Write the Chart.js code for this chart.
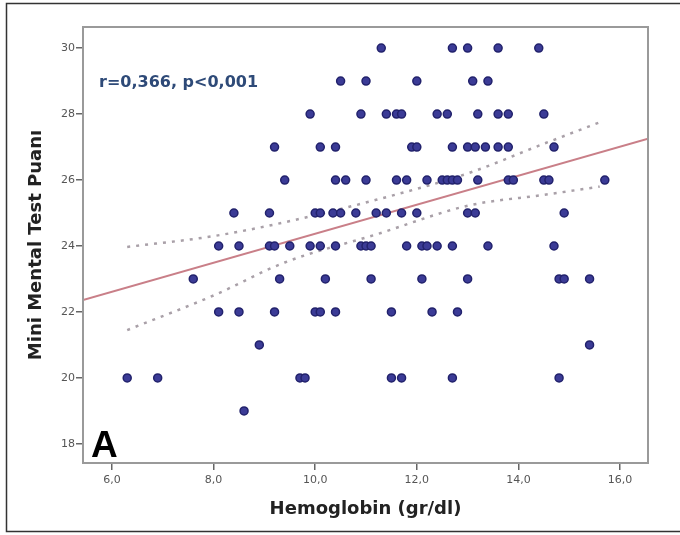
<!DOCTYPE html>
<html>
<head>
<meta charset="utf-8">
<script src="https://cdn.jsdelivr.net/npm/chart.js@4/dist/chart.umd.min.js"></script>
<style>
  html, body { margin: 0; padding: 0; background: #fff; }
  #wrap { width: 680px; height: 535px; position: relative; }
</style>
</head>
<body>
<div id="wrap"><canvas id="scatter"></canvas></div>
<script>
// hemoglobin (gr/dl) and matching MMSE score, grouped by score from 30 down to 19
const hemoglobin = [
  11.3, 12.7, 13.0, 13.6, 14.4,
  10.5, 11.0, 12.0, 13.1, 13.4,
  9.9, 10.9, 11.4, 11.6, 11.7, 12.4, 12.6, 13.2, 13.6, 13.8, 14.5,
  9.2, 10.1, 10.4, 11.9, 12.0, 12.7, 13.0, 13.15, 13.35, 13.6, 13.8, 14.7,
  9.4, 10.4, 10.6, 11.0, 11.6, 11.8, 12.2, 12.5, 12.6, 12.7, 12.8, 13.2, 13.8, 13.9, 14.5, 14.6, 15.7,
  8.4, 9.1, 10.0, 10.1, 10.35, 10.5, 10.8, 11.2, 11.4, 11.7, 12.0, 13.0, 13.15, 14.9,
  8.1, 8.5, 9.1, 9.2, 9.5, 9.9, 10.1, 10.4, 10.9, 11.0, 11.1, 11.8, 12.1, 12.2, 12.4, 12.7, 13.4, 14.7,
  7.6, 9.3, 10.2, 11.1, 12.1, 13.0, 14.8, 14.9, 15.4,
  8.1, 8.5, 9.2, 10.0, 10.1, 10.4, 11.5, 12.3, 12.8,
  8.9, 15.4,
  6.3, 6.9, 9.7, 9.8, 11.5, 11.7, 12.7, 14.8,
  8.6
];
const mmseScore = [
  30, 30, 30, 30, 30,
  29, 29, 29, 29, 29,
  28, 28, 28, 28, 28, 28, 28, 28, 28, 28, 28,
  27, 27, 27, 27, 27, 27, 27, 27, 27, 27, 27, 27,
  26, 26, 26, 26, 26, 26, 26, 26, 26, 26, 26, 26, 26, 26, 26, 26, 26,
  25, 25, 25, 25, 25, 25, 25, 25, 25, 25, 25, 25, 25, 25,
  24, 24, 24, 24, 24, 24, 24, 24, 24, 24, 24, 24, 24, 24, 24, 24, 24, 24,
  23, 23, 23, 23, 23, 23, 23, 23, 23,
  22, 22, 22, 22, 22, 22, 22, 22, 22,
  21, 21,
  20, 20, 20, 20, 20, 20, 20, 20,
  19
];

// linear fit and its 95% confidence band
const fitX = [5.43, 16.55];
const fitY = [22.36, 27.25];
const bandX = [6.3, 8.0, 9.4, 11.2, 13.0, 14.5, 15.6];
const bandUpper = [23.97, 24.3, 24.72, 25.4, 26.2, 27.1, 27.75];
const bandLower = [21.45, 22.5, 23.5, 24.35, 25.22, 25.55, 25.8];

const xTicks = [6, 8, 10, 12, 14, 16];
const yTicks = [18, 20, 22, 24, 26, 28, 30];
const xRange = [5.43, 16.55];
const yRange = [17.42, 30.64];

const statLabel = 'r=0,366, p<0,001';
const panelLetter = 'A';

const pts = (xs, ys) => xs.map((x, i) => ({ x: x, y: ys[i] }));

const frameAndNotes = {
  id: 'frameAndNotes',
  afterDraw(chart) {
    const { ctx, chartArea: a } = chart;
    ctx.save();
    // plot box
    ctx.strokeStyle = '#9a9a9a';
    ctx.lineWidth = 2;
    ctx.strokeRect(a.left, a.top, a.right - a.left, a.bottom - a.top);
    // outer figure frame
    ctx.strokeStyle = '#333';
    ctx.lineWidth = 1.5;
    ctx.beginPath();
    ctx.moveTo(chart.width, 3.5);
    ctx.lineTo(6.5, 3.5);
    ctx.lineTo(6.5, 531.5);
    ctx.lineTo(chart.width, 531.5);
    ctx.stroke();
    // correlation label
    ctx.fillStyle = '#2e4a78';
    ctx.font = 'bold 16px "DejaVu Sans"';
    ctx.textBaseline = 'alphabetic';
    ctx.textAlign = 'left';
    ctx.fillText(statLabel, a.left + 16, a.top + 60);
    // panel letter
    ctx.fillStyle = '#000';
    ctx.font = 'bold 37px "Liberation Sans"';
    ctx.fillText(panelLetter, a.left + 8, a.bottom - 6);
    ctx.restore();
  }
};

const tickFont = { family: 'DejaVu Sans', size: 11 };
const titleFont = { family: 'DejaVu Sans', size: 18, weight: 'bold' };

new Chart(document.getElementById('scatter'), {
  type: 'scatter',
  data: {
    datasets: [
      {
        label: 'MMSE',
        data: pts(hemoglobin, mmseScore),
        pointRadius: 4,
        pointBackgroundColor: '#3b3b96',
        pointBorderColor: '#22226c',
        pointBorderWidth: 1.5,
        order: 0
      },
      {
        label: 'fit',
        data: pts(fitX, fitY),
        showLine: true,
        pointRadius: 0,
        borderColor: '#c97f88',
        borderWidth: 2,
        order: 1
      },
      {
        label: 'upper',
        data: pts(bandX, bandUpper),
        showLine: true,
        pointRadius: 0,
        borderColor: '#a9a0a8',
        borderWidth: 2.5,
        borderDash: [3, 6],
        cubicInterpolationMode: 'monotone',
        order: 2
      },
      {
        label: 'lower',
        data: pts(bandX, bandLower),
        showLine: true,
        pointRadius: 0,
        borderColor: '#a9a0a8',
        borderWidth: 2.5,
        borderDash: [3, 6],
        cubicInterpolationMode: 'monotone',
        order: 2
      }
    ]
  },
  options: {
    responsive: true,
    maintainAspectRatio: false,
    animation: false,
    layout: { padding: { left: 0, top: 27, right: 32, bottom: 0 } },
    plugins: { legend: { display: false }, tooltip: { enabled: false } },
    scales: {
      x: {
        type: 'linear',
        min: xRange[0],
        max: xRange[1],
        afterBuildTicks: s => { s.ticks = xTicks.map(v => ({ value: v })); },
        afterFit: s => { s.height = 72; },
        border: { display: false },
        grid: { drawOnChartArea: false, drawTicks: true, tickLength: 7, tickColor: '#666', lineWidth: 1.5 },
        ticks: {
          font: tickFont,
          color: '#555',
          padding: 4,
          maxRotation: 0,
          callback: v => v.toFixed(1).replace('.', ',')
        },
        title: {
          display: true,
          text: 'Hemoglobin (gr/dl)',
          font: titleFont,
          color: '#222',
          padding: { top: 0, bottom: 15 }
        }
      },
      y: {
        type: 'linear',
        min: yRange[0],
        max: yRange[1],
        afterBuildTicks: s => { s.ticks = yTicks.map(v => ({ value: v })); },
        afterFit: s => { s.width = 83; },
        border: { display: false },
        grid: { drawOnChartArea: false, drawTicks: true, tickLength: 7, tickColor: '#666', lineWidth: 1.5 },
        ticks: { font: tickFont, color: '#555', padding: 1 },
        title: {
          display: true,
          text: 'Mini Mental Test Puanı',
          font: titleFont,
          color: '#222',
          padding: { top: 26, bottom: 0 }
        }
      }
    }
  },
  plugins: [frameAndNotes]
});
</script>
</body>
</html>
